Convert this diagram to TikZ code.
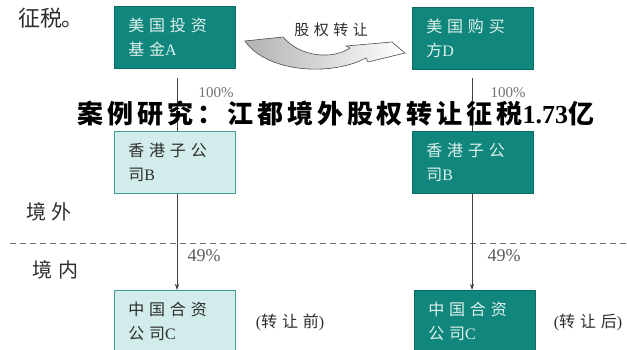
\documentclass[tikz,border=0pt]{standalone}
\usepackage{fontspec}
\setmainfont{Liberation Serif}
\newfontfamily\cjk{Noto Sans CJK SC}
\newfontfamily\cjkw[LetterSpace=30]{Noto Sans CJK SC}
\newfontfamily\cjkt[LetterSpace=15]{Noto Sans CJK SC}
\usetikzlibrary{arrows.meta}
\definecolor{tealbox}{RGB}{17,134,124}
\definecolor{tealtext}{RGB}{222,242,236}
\definecolor{lightbox}{RGB}{210,236,236}
\definecolor{darktext}{RGB}{45,45,45}
\definecolor{pctgray}{RGB}{90,90,90}
\tikzset{
  boxbase/.style={anchor=north west, minimum width=121pt, minimum height=62pt,
    text width=93pt, inner xsep=14pt, align=left, line width=0.8pt,
    font=\fontsize{16}{24}\selectfont\cjkw},
  darkbox/.style={boxbase, fill=tealbox, draw=tealbox!80!black, text=tealtext},
  lightboxs/.style={boxbase, fill=lightbox, draw=tealbox!80, text=darktext},
  conn/.style={draw=black!75, line width=0.7pt},
  arr/.style={conn, -{Stealth[length=6pt,width=4pt]}},
  pct/.style={text=pctgray, inner sep=0pt},
  side/.style={text=darktext, inner sep=0pt, font=\fontsize{20}{22}\selectfont\cjkw},
  note/.style={text=darktext, inner sep=0pt, font=\fontsize{16}{18}\selectfont},
}
\begin{document}
\begin{tikzpicture}[x=1pt,y=-1pt]
\useasboundingbox (0,0) rectangle (627,350);
\fill[white] (0,0) rectangle (627,350);

% top-left text
\node[text=darktext, inner sep=0pt, font=\fontsize{22}{24}\selectfont\cjk] (zs) at (51,18) {征税。};

% boxes
\node[darkbox] (A) at (114,6) {美国投资\\基金{\rmfamily A}};
\node[darkbox] (D) at (412,7) {美国购买\\方{\rmfamily D}};
\node[lightboxs] (B1) at (114,131) {香港子公\\司{\rmfamily B}};
\node[darkbox] (B2) at (412,131) {香港子公\\司{\rmfamily B}};
\node[lightboxs] (C1) at (114,290) {中国合资\\公司{\rmfamily C}};
\node[darkbox] (C2) at (414,290) {中国合资\\公司{\rmfamily C}};

% curved transfer arrow
\draw[draw=black!70, line width=0.6pt, left color=black!30, right color=white, shading angle=90]
  (245,41) -- (283,37) .. controls (300,57) and (332,60) .. (350,48)
  -- (346,46) -- (392,42) -- (405,53) -- (368,62) -- (366,58)
  .. controls (330,77) and (266,72) .. (245,41) -- cycle;
\node[text=darktext, inner sep=0pt, font=\fontsize{15}{18}\selectfont\cjkw] (gq) at (331,30) {股权转让};

% dashed border line
\coordinate (dl) at (10,243);
\coordinate (dr) at (627,243);
\draw[black!55, line width=0.7pt, dash pattern=on 6pt off 4pt] (dl) -- (dr);

% connectors
\coordinate (a0) at (177,78);
\coordinate (d0) at (472,78);
\draw[conn] (a0) -- (B1.north -| a0);
\draw[conn] (d0) -- (B2.north -| d0);
\draw[arr] (B1.south -| a0) -- (C1.north -| a0);
\draw[arr] (B2.south -| d0) -- (C2.north -| d0);

% percent labels
\node[pct, font=\fontsize{15}{16}\selectfont, text=black!55] (p1) at (216,93) {100\%};
\node[pct, font=\fontsize{15}{16}\selectfont, text=black!55] (p2) at (508,93) {100\%};
\node[pct, font=\fontsize{18}{20}\selectfont] (p3) at (204,256) {49\%};
\node[pct, font=\fontsize{18}{20}\selectfont] (p4) at (504,256) {49\%};

% title
\node[inner sep=0pt, text=black, font=\fontsize{26}{28}\selectfont] (title) at (336,114)
  {{\cjkt\bfseries 案例研究：江都境外股权转让征税}{\bfseries 1.73}{\cjkt\bfseries 亿}};

% side labels
\node[side] (jw) at (49,212) {境外};
\node[side] (jn) at (55,270) {境内};
\node[note] (bef) at (290,322) {(\cjkw 转让前\rmfamily)};
\node[note] (aft) at (588,322) {(\cjkw 转让后\rmfamily)};
\end{tikzpicture}
\end{document}
